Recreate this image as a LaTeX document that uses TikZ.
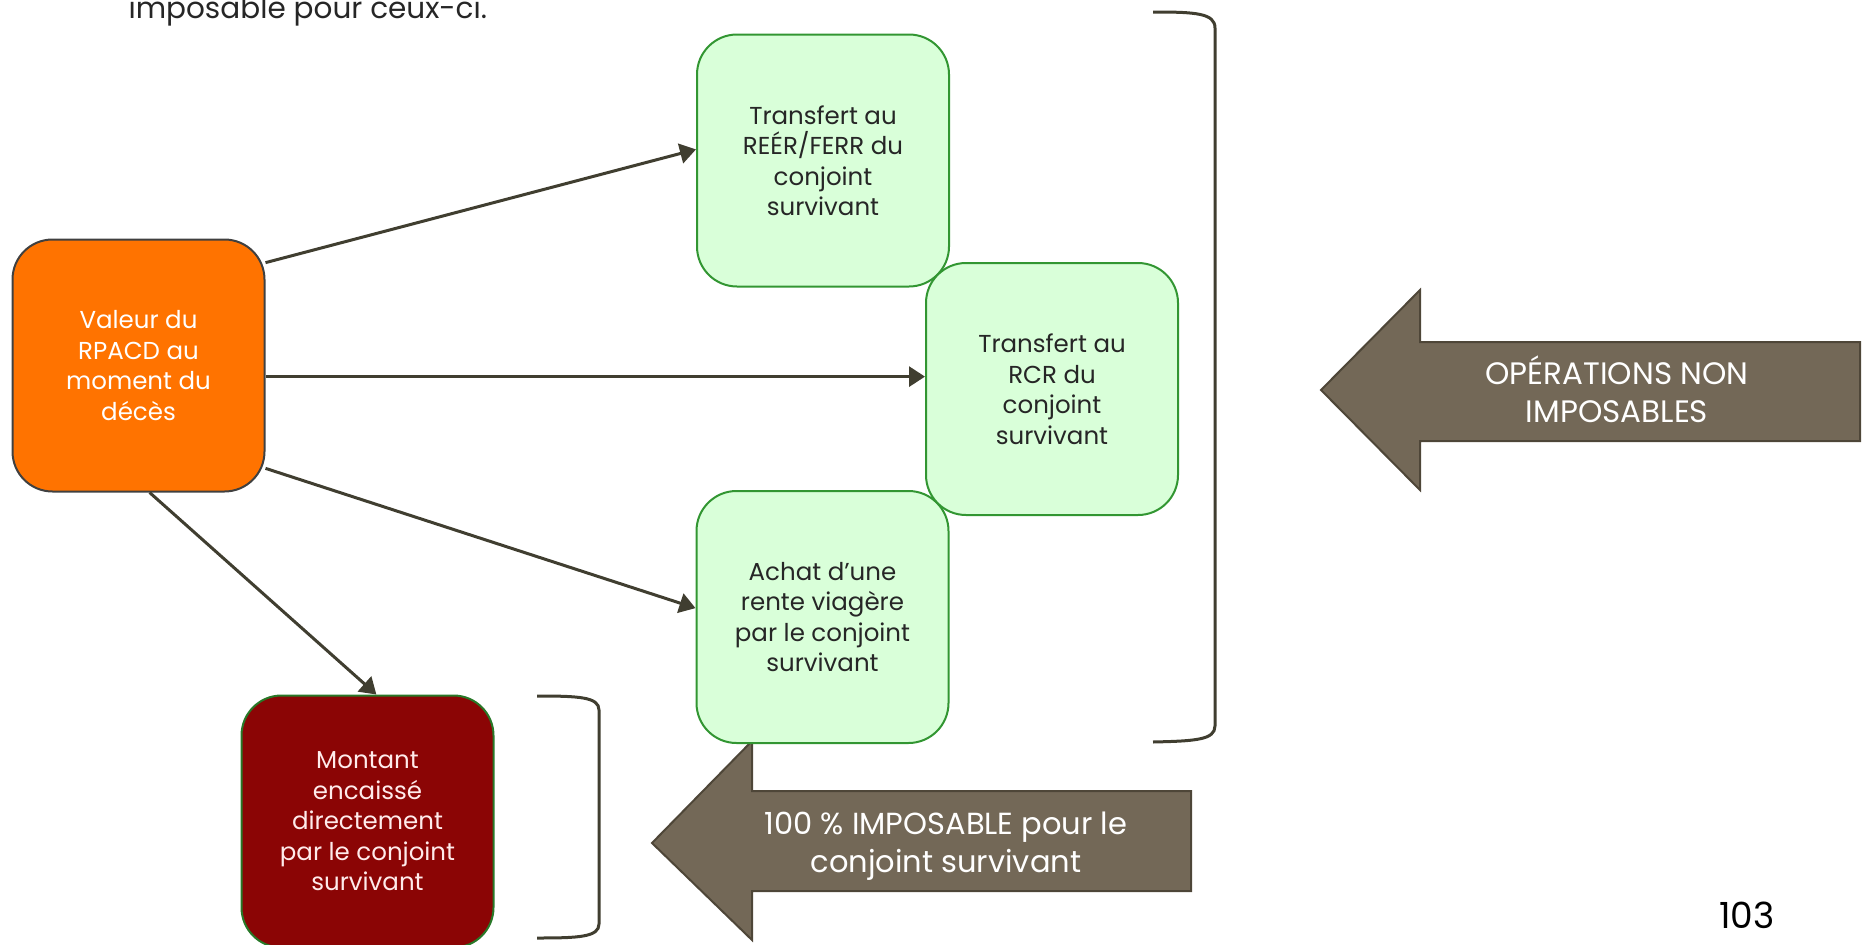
\documentclass[tikz,border=0pt]{standalone}
\usepackage{fontspec}
\setmainfont{Poppins}
\usetikzlibrary{arrows.meta}
\usetikzlibrary{positioning}

\definecolor{valorange}{RGB}{255,115,0}
\definecolor{optgreen}{RGB}{217,255,217}
\definecolor{optborder}{RGB}{50,150,50}
\definecolor{cashred}{RGB}{139,5,5}
\definecolor{taupe}{RGB}{115,104,87}
\definecolor{taupeline}{RGB}{78,70,56}
\definecolor{flowline}{RGB}{64,62,48}

\tikzset{
  box/.style={rectangle, rounded corners=40pt, minimum width=252pt, minimum height=252pt,
    align=center, line width=2pt, font=\fontsize{24.5}{30.5}\selectfont},
  startbox/.style={box, fill=valorange, draw=black!75, text=white},
  optbox/.style={box, fill=optgreen, draw=optborder, text=black!85},
  cashbox/.style={box, fill=cashred, draw=optborder!80!black, text=white!92!red},
  flow/.style={draw=flowline, line width=3pt, -{Triangle[length=16pt,width=20pt]}},
  bracket/.style={draw=flowline, line width=3pt},
  bigarrow/.style={fill=taupe, draw=taupeline, line width=2pt},
  arrowtext/.style={align=center, text=white, font=\fontsize{31}{38}\selectfont}
}

\begin{document}
\begin{tikzpicture}[x=1pt, y=-1pt]
  \useasboundingbox (0,0) rectangle (1866,945);

  \node [anchor=base west, text=black!85, font=\fontsize{29.5}{34}\selectfont] (intro) at (125,18) {imposable pour ceux-ci.};

  % les deux accolades
  \draw [bracket] (1153,12) .. controls (1195,12) and (1215,13) .. (1215,28) -- (1215,726) .. controls (1215,740) and (1195,741) .. (1153,742);
  \draw [bracket] (537,696) .. controls (579,696) and (599,697) .. (599,710) -- (599,924) .. controls (599,937) and (579,938) .. (537,938);

  % grosses fleches
  \draw [bigarrow] (1321,390) -- (1420,290) -- (1420,342) -- (1860,342) -- (1860,441) -- (1420,441) -- (1420,490) -- cycle;
  \node [arrowtext] (nontax) at (1617,389) {OPÉRATIONS NON\\IMPOSABLES};

  \draw [bigarrow] (652,843) -- (752,741) -- (752,791) -- (1191,791) -- (1191,891) -- (752,891) -- (752,940) -- cycle;
  \node [arrowtext, font=\fontsize{30.5}{38}\selectfont] (tax) at (946,846) {100 \% IMPOSABLE pour le\\conjoint survivant};

  \node [startbox] (value) at (138.5,365.5) {Valeur du\\RPACD au\\moment du\\décès};
  \node [optbox] (reer) at (823,160.5) {Transfert au\\REÉR/FERR du\\conjoint\\survivant};
  \node [optbox] (annuity) at (822.5,617) {Achat d'une\\rente viagère\\par le conjoint\\survivant};
  \node [optbox] (rcr) at (1052,389) {Transfert au\\RCR du\\conjoint\\survivant};
  \node [cashbox] (cash) at (367.5,821.5) {Montant\\encaissé\\directement\\par le conjoint\\survivant};

  \draw [flow] (value.39) -- (reer.175);
  \draw [flow] (value.-5) -- (value.-5 -| rcr.west);
  \draw [flow] (value.-39) -- (annuity.176);
  \draw [flow] (value.-85) -- (cash.86);

  \node [font=\fontsize{36}{40}\selectfont] (page) at (1747,915) {103};
\end{tikzpicture}
\end{document}
